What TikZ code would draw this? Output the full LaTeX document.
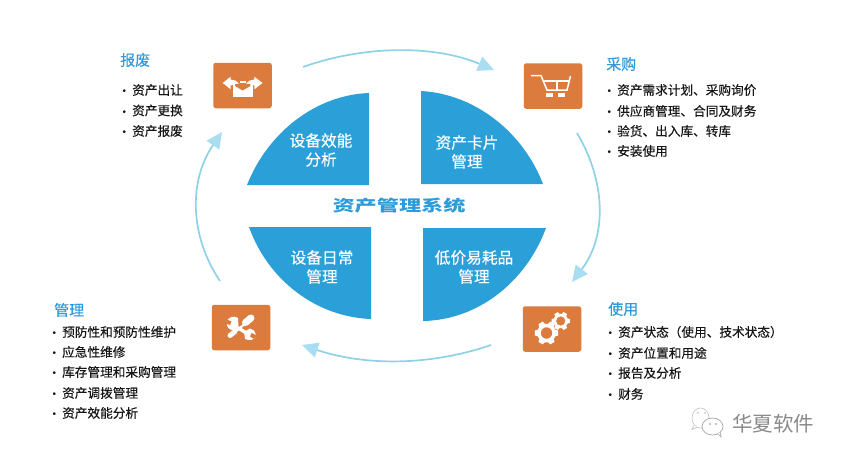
\documentclass[tikz,border=0pt]{standalone}
\usepackage{fontspec}
\setmainfont{Noto Sans CJK SC}
\newfontfamily\medfont[FakeBold=0.25]{Noto Sans CJK SC}
\newfontfamily\bulletfont{Liberation Sans}
\usetikzlibrary{arrows.meta}
\definecolor{quad}{HTML}{2A9FD8}
\definecolor{tile}{HTML}{DB7C3E}
\definecolor{flow}{HTML}{8FD2E6}
\definecolor{flowhead}{HTML}{A9DDF2}
\definecolor{head}{HTML}{2E9BDB}
\definecolor{body}{HTML}{161616}
\definecolor{wm}{HTML}{8A8A8A}
\tikzset{
  quadrant/.style={fill=quad,draw=none},
  quadlabel/.style={text=white,font=\medfont\fontsize{15.7}{19}\selectfont,align=center,inner sep=0pt},
  tile box/.style={fill=tile,draw=none,rounded corners=2.5pt,minimum width=58.5pt,minimum height=45.5pt,inner sep=0pt},
  title label/.style={text=head,font=\medfont\fontsize{15}{18}\selectfont,anchor=west,inner sep=0pt},
  item/.style={text=body,font=\medfont\fontsize{12.65}{15}\selectfont,anchor=west,inner sep=0pt},
  cycle arrow/.style={draw=flow,line width=1.7pt,-{Triangle[length=16pt,width=15pt,color=flowhead]}},
  glyph/.style={fill=white,draw=none},
  glyphline/.style={draw=white,line width=1.5pt,line cap=butt,fill=none},
  wechat/.style={draw=wm!75,line width=0.7pt,fill=white},
}
\newcommand{\itm}[1]{\makebox[0pt][r]{\bulletfont\fontsize{10}{10}\selectfont •\hspace{6pt}}#1}
\newcommand{\gearshape}[5]{% cx cy outer inner hole
  \fill[white,even odd rule,shift={(#1,#2)}]
    (-12:#3) -- (12:#3) -- (20:#4) -- (40:#4) -- (48:#3) -- (72:#3) -- (80:#4) -- (100:#4)
    -- (108:#3) -- (132:#3) -- (140:#4) -- (160:#4) -- (168:#3) -- (192:#3) -- (200:#4) -- (220:#4)
    -- (228:#3) -- (252:#3) -- (260:#4) -- (280:#4) -- (288:#3) -- (312:#3) -- (320:#4) -- (340:#4) -- cycle
    (0,0) circle (#5);
}
\begin{document}
\begin{tikzpicture}[x=1pt,y=-1pt]
\useasboundingbox (0,0) rectangle (842,461);
\fill[white] (0,0) rectangle (842,461);
% quadrants
\fill[quadrant] (247,185) .. controls (268,132) and (316,95) .. (369,93) -- (369,185) -- cycle;
\fill[quadrant] (421,91) .. controls (475,94) and (523,132) .. (543,184) -- (421,184) -- cycle;
\fill[quadrant] (249,227) -- (371,227) -- (371,319) .. controls (316,317) and (268,280) .. (249,227) -- cycle;
\fill[quadrant] (423,228) -- (546,228) .. controls (526,282) and (478,320) .. (423,321) -- cycle;
\node[quadlabel] (q1) at (321,150) {设备效能\\分析};
\node[quadlabel] (q2) at (467,152) {资产卡片\\管理};
\node[quadlabel] (q3) at (322,267) {设备日常\\管理};
\node[quadlabel] (q4) at (474,267) {低价易耗品\\管理};
\node[text=head,font=\bfseries\fontsize{15.5}{18}\selectfont,xscale=1.43,inner sep=0pt] (sys) at (399,206) {资产管理系统};
% tiles
\node[tile box] (t1) at (242.5,85.5) {};
\node[tile box] (t2) at (553,86) {};
\node[tile box] (t3) at (241,327.5) {};
\node[tile box] (t4) at (552,329) {};
% cycle connectors
\coordinate (a1) at (303,67); \coordinate (b1) at (494,70);
\coordinate (a2) at (577,133); \coordinate (b2) at (572,282);
\coordinate (a3) at (491,345); \coordinate (b3) at (302,345);
\coordinate (a4) at (220,281); \coordinate (b4) at (222,132);
\draw[cycle arrow] (a1) .. controls (365,45) and (435,45) .. (b1);
\draw[cycle arrow] (a2) .. controls (605,180) and (608,235) .. (b2);
\draw[cycle arrow] (a3) .. controls (430,366) and (365,366) .. (b3);
\draw[cycle arrow] (a4) .. controls (189,235) and (189,180) .. (b4);
% tile glyph: outbox
\fill[glyph] (232.7,83.5) rectangle (252.7,96.5);
\fill[tile] (235,83) -- (235,86) -- (242.7,90.5) -- (250.4,86) -- (250.4,83) -- cycle;
\fill[glyph] (240,80.5) rectangle (245.5,82.5);
\fill[tile] (231,79) rectangle (254,83.5);
\fill[glyph] (240,80.5) rectangle (245.5,82.5);
\fill[glyph] (222.7,83) -- (230.7,76.7) -- (230.7,79.5) .. controls (234,79.5) and (237,81) .. (239,83.5) .. controls (236,83.5) and (233,84.5) .. (230.7,85.5) -- (230.7,89.3) -- cycle;
\fill[glyph] (262.5,83) -- (254.3,76.7) -- (254.3,79.5) .. controls (251,79.5) and (248,81) .. (246,83.5) .. controls (249,83.5) and (252,84.5) .. (254.3,85.5) -- (254.3,89.3) -- cycle;
% tile glyph: cart
\draw[glyphline] (531,75.5) -- (541,75.5) -- (547,90) -- (567,90) -- (570.5,76);
\draw[glyphline,line width=1.2pt] (543,81) -- (569.5,81) (557,81) -- (557,90);
\fill[glyph] (546,93) rectangle (553,97);
\fill[glyph] (558,93) rectangle (565,97);
% tile glyph: tools
\draw[white,line width=3.4pt] (233,325) -- (250,335);
\fill[white] (226.5,322) .. controls (228,317) and (234,315) .. (238,318) -- (238.5,327) -- (233,330) .. controls (229,330) and (226.5,327) .. (226.5,322) -- cycle;
\fill[tile] (226,319) -- (231.5,321.5) -- (230,325) -- (225,323.5) -- cycle;
\fill[white] (256,336) .. controls (255,340) and (249,341) .. (245,339) -- (244,332) -- (250,328.5) .. controls (253,329) and (255.5,331) .. (256,336) -- cycle;
\fill[tile] (257,335.5) -- (251.5,333) -- (250,336.5) -- (254,339) -- cycle;
\draw[white,line width=2.2pt] (246,323) -- (236,331);
\draw[white,line width=5pt,line cap=round] (235,331.5) -- (230,335.5);
\draw[white,line width=7pt,line cap=round] (245.5,322.5) -- (251,318);
% tile glyph: gears
\gearshape{546.5}{333}{12}{9.4}{5.8}
\gearshape{560.7}{321}{9.4}{7.3}{4.7}
% titles
\node[title label] (h1) at (120,60) {报废};
\node[title label] (h2) at (606,64) {采购};
\node[title label] (h3) at (54,310) {管理};
\node[title label] (h4) at (608,309) {使用};
% lists
\node[item] (l11) at (132,90) {\itm{资产出让}};
\node[item] (l12) at (132,110.5) {\itm{资产更换}};
\node[item] (l13) at (132,131) {\itm{资产报废}};
\node[item] (l21) at (617,90) {\itm{资产需求计划、采购询价}};
\node[item] (l22) at (617,111) {\itm{供应商管理、合同及财务}};
\node[item] (l23) at (617,131) {\itm{验货、出入库、转库}};
\node[item] (l24) at (617,151) {\itm{安装使用}};
\node[item] (l31) at (62,332) {\itm{预防性和预防性维护}};
\node[item] (l32) at (62,352) {\itm{应急性维修}};
\node[item] (l33) at (62,372) {\itm{库存管理和采购管理}};
\node[item] (l34) at (62,393) {\itm{资产调拨管理}};
\node[item] (l35) at (62,413) {\itm{资产效能分析}};
\node[item] (l41) at (618,332) {\itm{资产状态（使用、技术状态）}};
\node[item] (l42) at (618,353) {\itm{资产位置和用途}};
\node[item] (l43) at (618,373) {\itm{报告及分析}};
\node[item] (l44) at (618,394) {\itm{财务}};
% watermark
\draw[wechat,draw=wm!45] (700.5,418) ellipse (8.5 and 10);
\draw[wechat,draw=wm!45] (694,425) -- (692,429.5) -- (697,427);
\fill[wm!60] (698,413) circle (0.8) (705,413) circle (0.8);
\draw[wechat] (712.5,426.5) ellipse (10.5 and 8.5);
\draw[wechat] (717.5,433.5) -- (721,437) -- (720.5,432.5);
\fill[wm] (710,424) circle (0.8) (716,424) circle (0.8);
\node[text=wm,font=\fontsize{20.5}{24}\selectfont,anchor=west,inner sep=0pt] (wm) at (732,424) {华夏软件};
\end{tikzpicture}
\end{document}
